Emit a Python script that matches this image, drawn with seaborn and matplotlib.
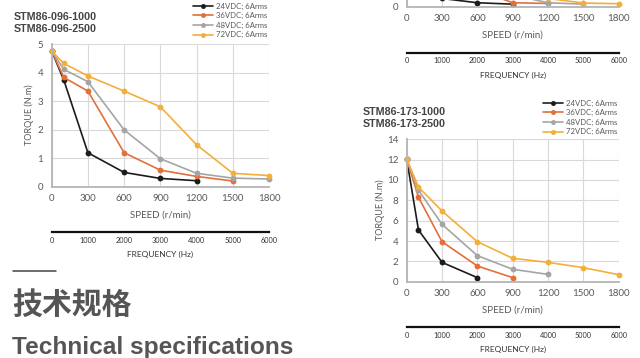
import matplotlib
matplotlib.use("Agg")
import matplotlib.pyplot as plt
from matplotlib.lines import Line2D
import numpy as np
import pandas as pd
import seaborn as sns

# ---------------- data ----------------
speed = [0, 100, 300, 600, 900, 1200, 1500, 1800]
series_labels = ["24VDC; 6Arms", "36VDC; 6Arms", "48VDC; 6Arms", "72VDC; 6Arms"]
colors = ["#1c1c1c", "#E2703A", "#A5A5A5", "#F4AE3A"]
freq_ticks = [0, 1000, 2000, 3000, 4000, 5000, 6000]
speed_ticks = [0, 300, 600, 900, 1200, 1500, 1800]

# STM86-096 (left)
a_24 = [4.75, 3.74, 1.19, 0.50, 0.29, 0.21]
a_36 = [4.75, 3.83, 3.35, 1.19, 0.58, 0.36, 0.20]
a_48 = [4.75, 4.11, 3.68, 1.99, 0.98, 0.47, 0.30, 0.27]
a_72 = [4.75, 4.32, 3.88, 3.35, 2.80, 1.47, 0.47, 0.39]

# upper-right chart (only its bottom is visible)
t_24 = [8.5, 5.0, 0.6, 0.30, 0.20]
t_36 = [8.5, 7.0, 4.0, 1.20, 0.30, 0.25]
t_48 = [8.5, 7.5, 5.0, 2.50, 0.85, 0.30, 0.20]
t_72 = [8.5, 8.0, 6.5, 4.00, 2.00, 0.60, 0.28, 0.23]

# STM86-173 (lower right)
b_24 = [12.06, 5.08, 1.90, 0.40]
b_36 = [12.06, 8.30, 3.93, 1.54, 0.40]
b_48 = [12.06, 9.00, 5.64, 2.56, 1.22, 0.72]
b_72 = [12.06, 9.30, 6.95, 3.93, 2.30, 1.90, 1.38, 0.69]


def long_df(series):
    rows = []
    for lab, vals in zip(series_labels, series):
        for s, v in zip(speed, vals):
            rows.append({"speed": s, "torque": v, "series": lab})
    return pd.DataFrame(rows)


# ---------------- figure ----------------
sns.set_theme(style="white")
plt.rcParams["font.family"] = ["Lato", "DejaVu Sans"]
W, H = 640, 358
fig = plt.figure(figsize=(W / 100, H / 100), dpi=100)
fig.patch.set_facecolor("white")

TXT = "#595959"


def fx(x):
    return x / W


def fy(y):
    return 1 - y / H


def panel(x0, x1, ytop, ybot, ylim, yticks, series, title=None, title_xy=None,
          legend_xy=None, ylabel_xy=None):
    ax = fig.add_axes([fx(x0), fy(ybot), (x1 - x0) / W, (ybot - ytop) / H])
    df = long_df(series)
    sns.lineplot(data=df, x="speed", y="torque", hue="series",
                 hue_order=series_labels, palette=colors, marker="o",
                 markersize=4.2, markeredgewidth=0, linewidth=1.2,
                 errorbar=None, sort=False, legend=False, ax=ax)
    for ln in ax.get_lines():
        ln.set_clip_on(False)
    ax.set_xlim(0, 1800)
    ax.set_ylim(*ylim)
    ax.set_xticks(speed_ticks)
    ax.set_yticks(yticks)
    ax.set_xlabel("")
    ax.set_ylabel("")
    ax.grid(True, color="#d9d9d9", linewidth=0.8)
    ax.set_axisbelow(True)
    for s in ["top", "right"]:
        ax.spines[s].set_visible(False)
    for s in ["left", "bottom"]:
        ax.spines[s].set_color("#b5b5b5")
        ax.spines[s].set_linewidth(1.3)
    ax.tick_params(axis="both", length=0, labelsize=7, labelcolor=TXT)
    ax.tick_params(axis="x", pad=5)
    ax.tick_params(axis="y", pad=6)
    ax.set_facecolor("none")

    xc = (x0 + x1) / 2
    fig.text(fx(xc), fy(ybot + 28.5), "SPEED (r/min)", ha="center", va="center",
             fontsize=7, color=TXT)
    # frequency scale
    yl = ybot + 45.5
    fa = fig.add_axes([fx(x0), fy(yl), (x1 - x0) / W, 0.001])
    fa.set_xlim(0, 6000)
    fa.set_xticks(freq_ticks)
    fa.set_yticks([])
    for s in ["top", "right", "left"]:
        fa.spines[s].set_visible(False)
    fa.spines["bottom"].set_color("#111111")
    fa.spines["bottom"].set_linewidth(1.6)
    fa.tick_params(axis="x", direction="in", length=2.5, width=0.9, color="#111111",
                   labelsize=5.3, labelcolor="#333333", pad=3.2)
    fa.set_facecolor("none")
    fa.patch.set_visible(False)
    fig.text(fx(xc), fy(yl + 22.5), "FREQUENCY (Hz)", ha="center", va="center",
             fontsize=6, color="#333333")

    if title is not None:
        tx, ty = title_xy
        for i, t in enumerate(title):
            fig.text(fx(tx), fy(ty + i * 12), t, ha="left", va="center",
                     fontsize=7.7, fontweight="bold", color="#444444",
                     family=["Liberation Sans", "DejaVu Sans"])
    if ylabel_xy is not None:
        fig.text(fx(ylabel_xy[0]), fy(ylabel_xy[1]), "TORQUE (N.m)", rotation=90,
                 ha="center", va="center", fontsize=6.5, color=TXT)
    if legend_xy is not None:
        handles = ax.get_lines()[:4]
        fig.legend(handles, series_labels, loc="upper left",
                   bbox_to_anchor=(fx(legend_xy[0]), fy(legend_xy[1])),
                   frameon=False, fontsize=5.6, handlelength=2.6,
                   handletextpad=0.3, labelspacing=0.33, borderpad=0,
                   borderaxespad=0, labelcolor=TXT, markerscale=0.85)
    return ax


# left chart
panel(51.7, 269, 44, 186.7, (0, 5), [0, 1, 2, 3, 4, 5],
      [a_24, a_36, a_48, a_72],
      title=["STM86-096-1000", "STM86-096-2500"], title_xy=(13.3, 16.7),
      legend_xy=(193, 2.5), ylabel_xy=(29.3, 115))

# upper right (cut off at the top; only the zero row is inside the picture)
panel(406.7, 618.7, 7 - 142, 7, (0, 10), [0],
      [t_24, t_36, t_48, t_72])

# lower right chart
panel(406.7, 618.7, 139.3, 281.7, (0, 14), [0, 2, 4, 6, 8, 10, 12, 14],
      [b_24, b_36, b_48, b_72],
      title=["STM86-173-1000", "STM86-173-2500"], title_xy=(362.3, 111.7),
      legend_xy=(543, 99.5), ylabel_xy=(380, 210))

# heading block at lower left
fig.add_artist(Line2D([fx(13), fx(56)], [fy(271), fy(271)], color="#444444",
                      linewidth=1.1, transform=fig.transFigure))
fig.text(fx(12), fy(305), "技术规格", ha="left", va="center", fontsize=21.5,
         fontweight="bold", color="#555555",
         family=["Noto Sans CJK SC", "DejaVu Sans"])
fig.text(fx(12), fy(354), "Technical specifications", ha="left", va="baseline",
         fontsize=17.6, fontweight="bold", color="#555555",
         family=["Liberation Sans", "DejaVu Sans"])

fig.savefig("out.png", dpi=100, facecolor="white")
